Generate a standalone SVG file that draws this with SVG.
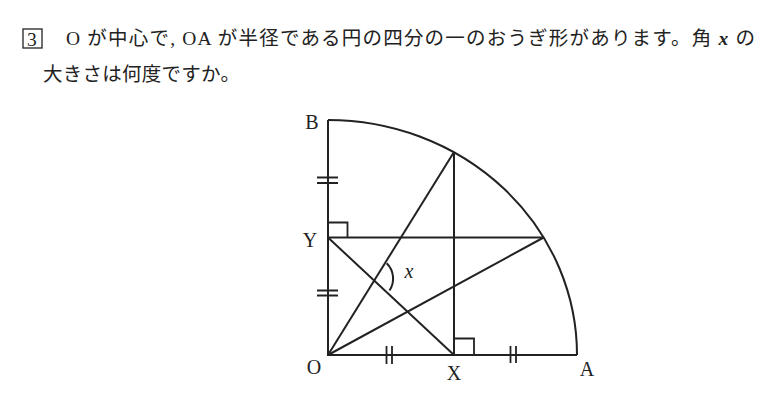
<svg xmlns="http://www.w3.org/2000/svg" width="770" height="405" viewBox="0 0 770 405">
<style>
.t{font-family:"Liberation Serif","Noto Sans CJK JP",serif;font-size:19.5px;fill:#222}
.lb{font-family:"Liberation Serif",serif;font-size:20px;fill:#222;text-anchor:middle}
.ln{stroke:#222;stroke-width:2;fill:none}
.tk{stroke:#222;stroke-width:1.8;fill:none}
</style>
<rect width="770" height="405" fill="#fff"/>
<g id="header">
<rect x="23" y="29" width="19" height="19" fill="none" stroke="#222" stroke-width="1.3"/>
<text class="t" x="27" y="45.5" font-size="19.5">3</text>
<text class="t" x="66" y="45" textLength="689" lengthAdjust="spacing">O が中心で, OA が半径である円の四分の一のおうぎ形があります。角 <tspan font-style="italic" font-weight="bold">x</tspan> の</text>
<text class="t" x="43" y="81" textLength="197" lengthAdjust="spacing">大きさは何度ですか。</text>
</g>
<g id="connectors">
<path class="ln" d="M328,120 A249,235 0 0 1 577,355" stroke-width="2.5"/>
<path class="ln" d="M328,120 V355 H577"/>
<path class="ln" d="M328,355 L454,152"/>
<path class="ln" d="M328,355 L543.6,237.5"/>
<path class="ln" d="M328,237.5 L454,355"/>
<path class="ln" d="M328,237.5 H543.6"/>
<path class="ln" d="M454,152 V355"/>
<path class="tk" d="M328,237.5 V222.5 H347.5 V237.5"/>
<path class="tk" d="M454,338.5 H474 V355"/>
<path class="tk" d="M317,177.5 H338 M317,183 H338"/>
<path class="tk" d="M317,290.5 H338 M317,295.5 H338"/>
<path class="tk" d="M386.5,346 V364 M392,346 V364"/>
<path class="tk" d="M510.5,346 V363 M516,346 V363"/>
<path class="ln" d="M386.7,263.3 A21.5,21.5 0 0 1 389.5,290.5" stroke-width="1.3"/>
</g>
<g id="labels">
<text class="lb" x="312" y="129">B</text>
<text class="lb" x="310" y="247">Y</text>
<text class="lb" x="314" y="374">O</text>
<text class="lb" x="454" y="380">X</text>
<text class="lb" x="587" y="376">A</text>
<text class="lb" x="409" y="278" font-style="italic" font-size="19">x</text>
</g>
</svg>
